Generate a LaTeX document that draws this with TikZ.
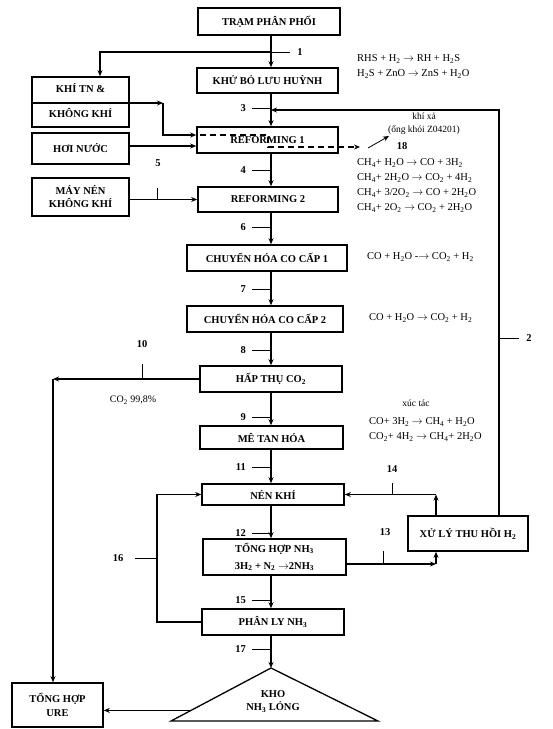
\documentclass[tikz,border=0pt]{standalone}
\usepackage{fontspec}
\setmainfont{Liberation Serif}
\usepackage{tikz}
\usetikzlibrary{positioning, arrows.meta, calc}
\tikzset{
  blk/.style={draw, line width=1.6pt, fill=white, align=center, inner sep=1pt, font=\bfseries\fontsize{10.5}{13}\selectfont},
  num/.style={inner sep=0pt, font=\bfseries\fontsize{10.5}{12}\selectfont},
  eq/.style={inner sep=0pt, anchor=west, align=left, font=\fontsize{10.5}{15}\selectfont},
  arr/.style={-{Stealth[length=6pt, width=5pt]}, line width=1.1pt},
  vent/.style={arr, dashed, dash pattern=on 6pt off 4pt},
  tk/.style={line width=0.8pt},
}

\begin{document}
\begin{tikzpicture}[x=1pt, y=-1pt]
\useasboundingbox (0,0) rectangle (553,729);
\coordinate (sp) at (271,0);
% main column
\node[blk, minimum width=142pt, minimum height=27pt] (tram) at (269,21.5) {TRẠM PHÂN PHỐI};
\node[blk, minimum width=141pt, minimum height=25pt] (khu) at (267.5,80.5) {KHỬ BỎ LƯU HUỲNH};
\node[blk, minimum width=141pt, minimum height=26pt] (ref1) at (267.5,140) {REFORMING 1};
\node[blk, minimum width=140pt, minimum height=25pt] (ref2) at (268,199.5) {REFORMING 2};
\node[blk, minimum width=160pt, minimum height=26pt] (chh1) at (267,258) {CHUYỂN HÓA CO CẤP 1};
\node[blk, minimum width=156pt, minimum height=26pt] (chh2) at (265,319) {CHUYỂN HÓA CO CẤP 2};
\node[blk, minimum width=142pt, minimum height=26pt] (hapthu) at (271,379) {HẤP THỤ CO\textsubscript{2}};
\node[blk, minimum width=143pt, minimum height=23pt] (metan) at (271.5,437.5) {MÊ TAN HÓA};
\node[blk, minimum width=142pt, minimum height=21pt] (nenkhi) at (273,494.5) {NÉN KHÍ};
\node[blk, minimum width=143pt, minimum height=36pt, font=\bfseries\fontsize{10.5}{17}\selectfont] (tonghop) at (274.5,557) {TỔNG HỢP NH\textsubscript{3}\\3H\textsubscript{2} + N\textsubscript{2} $\rightarrow$2NH\textsubscript{3}};
\node[blk, minimum width=142pt, minimum height=26pt] (phanly) at (273,622) {PHÂN LY NH\textsubscript{3}};
\node[blk, minimum width=120pt, minimum height=35pt] (xuly) at (468,533.5) {XỬ LÝ THU HỒI H\textsubscript{2}};
% side inputs
\node[blk, minimum width=97pt, minimum height=50pt] (khitn) at (80.5,102) {};
\node[num] (khitn1) at ($(khitn)+(0,-14)$) {KHÍ TN \&};
\node[num] (khitn2) at ($(khitn)+(0,11)$) {KHÔNG KHÍ};
\node[blk, minimum width=97pt, minimum height=31pt] (hoinuoc) at (80.5,148.5) {HƠI NƯỚC};
\node[blk, minimum width=97pt, minimum height=38pt] (maynen) at (80.5,197) {MÁY NÉN\\KHÔNG KHÍ};
\node[blk, minimum width=91pt, minimum height=44pt, font=\bfseries\fontsize{10.5}{14}\selectfont] (ure) at (57.5,705) {TỔNG HỢP\\URE};
% storage tank
\coordinate (kA) at (271,668);
\coordinate (kL) at (171,721);
\coordinate (kR) at (378,721);
\draw[line width=1.3pt] (kA) -- (kR) -- (kL) -- cycle;
\node[num, align=center, font=\bfseries\fontsize{10.5}{13}\selectfont] (kho) at (273,701.5) {KHO\\NH\textsubscript{3} LỎNG};

% spine
\draw[arr] (tram.south -| sp) -- (khu.north -| sp);
\draw[arr] (khu.south -| sp) -- (ref1.north -| sp);
\foreach \a/\b in {ref1/ref2, ref2/chh1, chh1/chh2, chh2/hapthu, hapthu/metan, metan/nenkhi, nenkhi/tonghop, tonghop/phanly}
  \draw[arr] (\a.south -| sp) -- (\b.north -| sp);
\draw[arr] (phanly.south -| sp) -- (kA);
\foreach \n/\y in {3/108, 4/170, 6/227, 7/289, 8/350, 9/417, 11/467, 12/533, 15/600, 17/649} {
  \node[num, anchor=east] (n\n) at (246,\y) {\n};
  \draw[tk] ($(n\n.east)+(6,0)$) -- (n\n -| sp);
}

% 1: feed to side
\coordinate (j1) at (271,52);
\node[num] (n1) at (300,52) {1};
\draw[arr] (j1) -| ($(khitn.north)+(19.5,0)$);
\draw[tk] (j1) -- ($(n1.west)+(-7,0)$);
\coordinate (kc) at (163,103);
\draw[arr] (khitn.west |- kc) -- (kc);
\draw[arr] (kc) |- ($(ref1.west)+(0,-5)$);
\draw[arr] ($(hoinuoc.east)+(0,-2.5)$) -- ($(ref1.west)+(0,6)$);
\node[num] (n5) at (158,163) {5};
\draw[arr] (maynen.east |- ref2) -- (ref2.west);
\coordinate (m5) at (157,199.5);
\draw[tk] (m5) -- ++(0,-12);

% 18: flue gas
\coordinate (v1) at (200,135);
\coordinate (v2) at (268,135);
\coordinate (v3) at (268,147);
\coordinate (v4) at (360,147);
\draw[vent] (v1) -- (v2) -- (v3) -- (v4);
\coordinate (f1) at (368,148);
\coordinate (f2) at (389,136);
\draw[arr, line width=0.8pt] (f1) -- (f2);
\node[num] (n18) at (402,146) {18};
\node[align=center, inner sep=0pt, font=\fontsize{9.5}{13}\selectfont] (xa) at (424,123.5) {khí xả\\(ống khói Z04201)};

% 2: recycle
\coordinate (r2) at (499,110);
\draw[arr] (xuly.north -| r2) |- (sp |- r2);
\node[num] (n2) at (529,338) {2};
\draw[tk] (r2 |- n2) -- ($(n2.west)+(-7,0)$);

% 10: CO2 to urea
\coordinate (u1) at (53,379);
\draw[arr] (hapthu.west) -- (u1);
\draw[arr] (u1) -- (u1 |- ure.north);
\node[num] (n10) at (142,344) {10};
\draw[tk] (142,379) -- (142,364);
\node[inner sep=0pt, font=\fontsize{10}{12}\selectfont] (co2) at (133,400) {CO\textsubscript{2} 99,8\%};

% 13 / 14: H2 recovery
\coordinate (x13) at (436,564);
\draw[arr] (tonghop.east |- x13) -- (x13);
\draw[arr] (x13) -- (x13 |- xuly.south);
\node[num] (n13) at (385,532) {13};
\draw[tk] (383,564) -- (383,551);
\coordinate (x14) at (436,494.5);
\draw[arr] (xuly.north -| x14) -- (x14);
\draw[arr] (x14) -- (nenkhi.east);
\node[num] (n14) at (392,469) {14};
\draw[tk] (392,494.5) -- (392,483);

% 16: loop back
\coordinate (c16) at (157,558);
\draw[arr] (phanly.west) -| (c16) |- (nenkhi.west);
\node[num] (n16) at (118,558) {16};
\draw[tk] (c16) -- ($(n16.east)+(12,0)$);

% NH3 to urea
\coordinate (kE) at ($(kL)!0.2!(kA)$);
\draw[arr] (kE) -- (kE -| ure.east);

% reactions
\node[eq] (eqs) at (357,66.5) {RHS + H\textsubscript{2} $\rightarrow$ RH + H\textsubscript{2}S\\H\textsubscript{2}S + ZnO $\rightarrow$ ZnS + H\textsubscript{2}O};
\node[eq] (eqr) at (357,185.5) {CH\textsubscript{4}+ H\textsubscript{2}O $\rightarrow$ CO + 3H\textsubscript{2}\\CH\textsubscript{4}+ 2H\textsubscript{2}O $\rightarrow$ CO\textsubscript{2} + 4H\textsubscript{2}\\CH\textsubscript{4}+ 3/2O\textsubscript{2} $\rightarrow$ CO + 2H\textsubscript{2}O\\CH\textsubscript{4}+ 2O\textsubscript{2} $\rightarrow$ CO\textsubscript{2} + 2H\textsubscript{2}O};
\node[eq] (eqc1) at (367,257) {CO + H\textsubscript{2}O -$\rightarrow$ CO\textsubscript{2} + H\textsubscript{2}};
\node[eq] (eqc2) at (369,318) {CO + H\textsubscript{2}O $\rightarrow$ CO\textsubscript{2} + H\textsubscript{2}};
\node[inner sep=0pt, font=\fontsize{9.5}{11}\selectfont] (cat) at (416,403) {xúc tác};
\node[eq] (eqm) at (369,429.5) {CO+ 3H\textsubscript{2} $\rightarrow$ CH\textsubscript{4} + H\textsubscript{2}O\\CO\textsubscript{2}+ 4H\textsubscript{2} $\rightarrow$ CH\textsubscript{4}+ 2H\textsubscript{2}O};
\end{tikzpicture}
\end{document}
